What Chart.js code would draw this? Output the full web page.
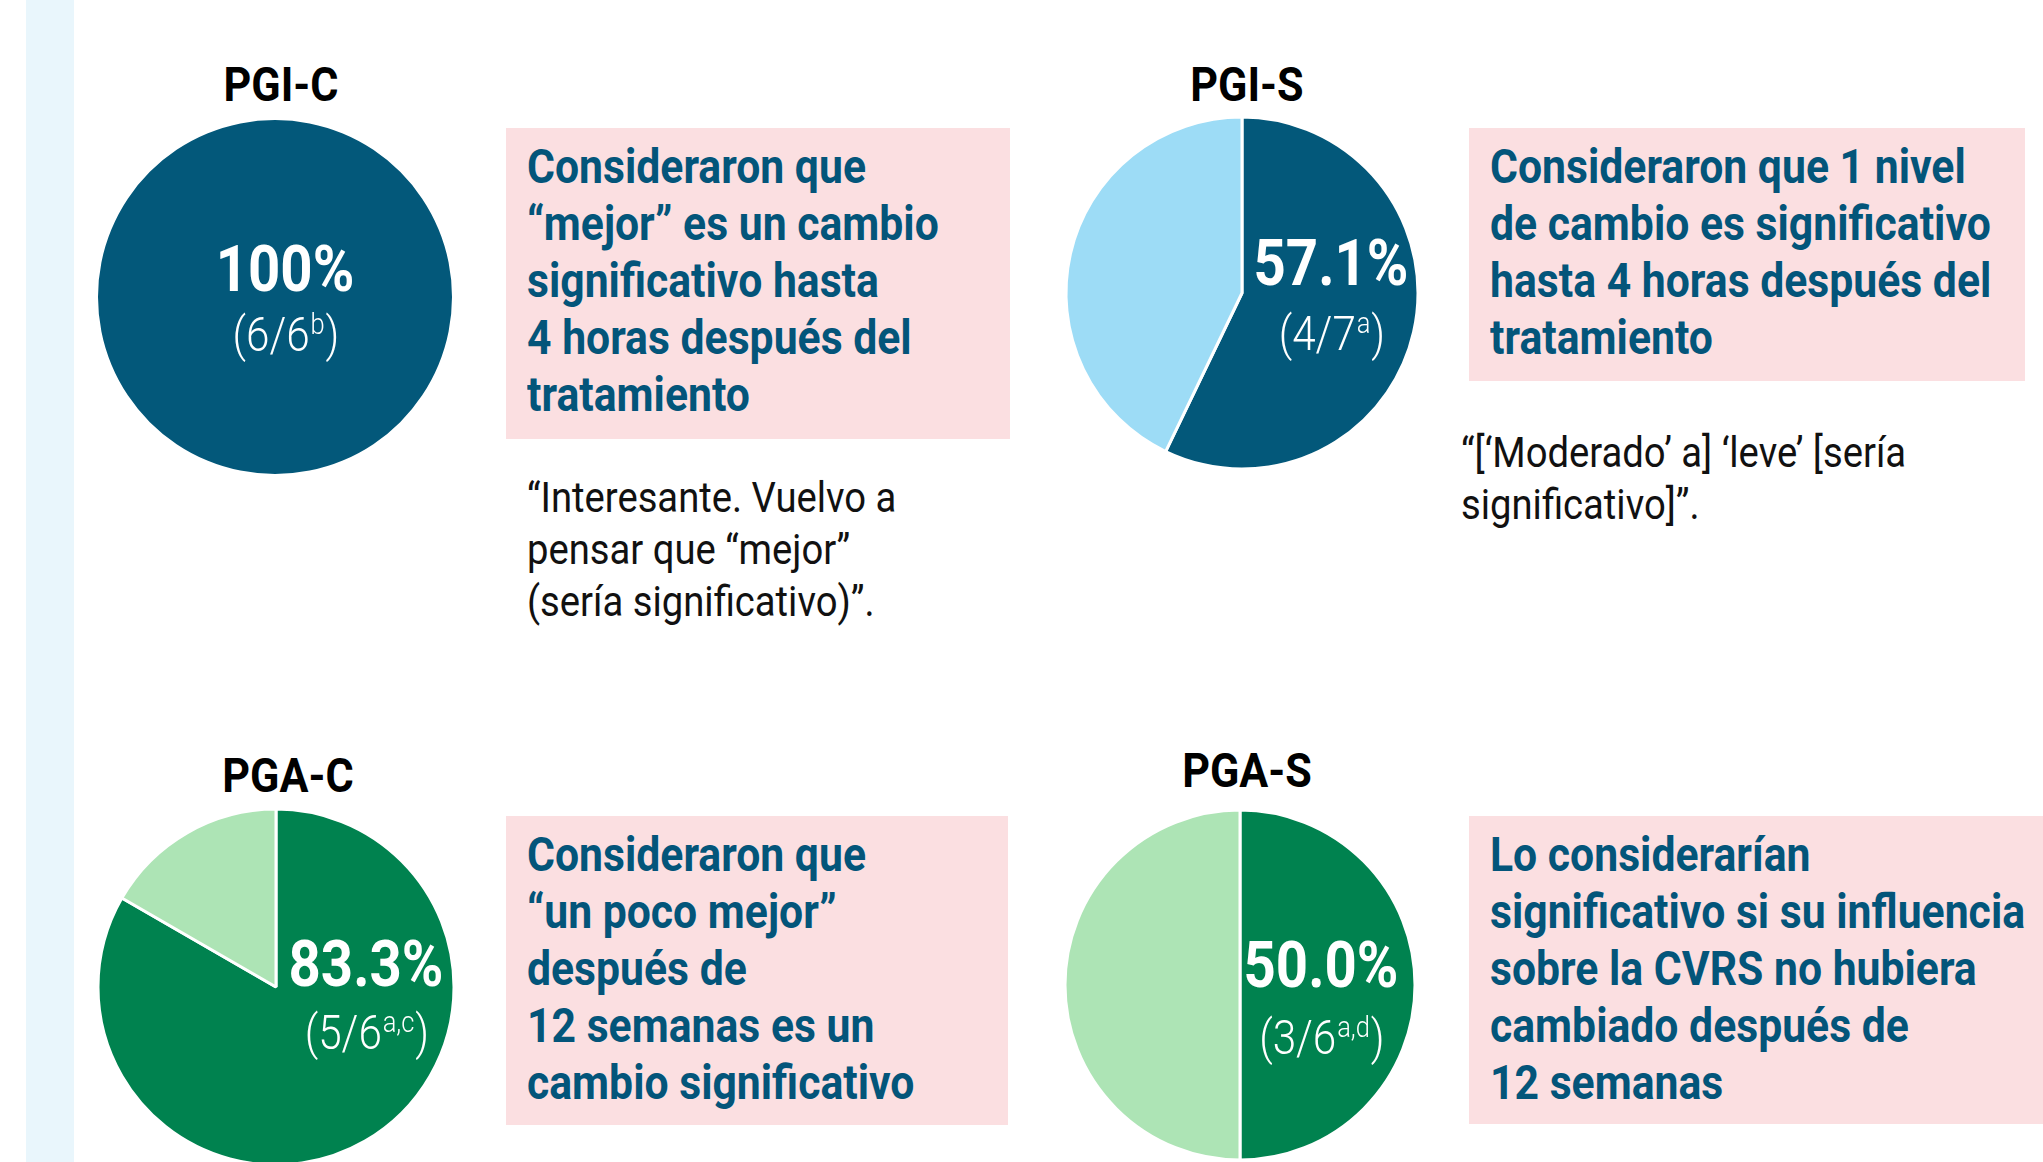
<!DOCTYPE html>
<html lang="es">
<head>
<meta charset="utf-8">
<title>PGI-C / PGI-S / PGA-C / PGA-S</title>
<script src="https://cdn.jsdelivr.net/npm/chart.js@4.4.1/dist/chart.umd.min.js"></script>
<style>
  html, body { margin: 0; padding: 0; }
  body {
    width: 2043px; height: 1162px; position: relative; overflow: hidden;
    background: #fff; font-family: Roboto, 'Liberation Sans', sans-serif;
  }
  .strip { position: absolute; left: 26px; top: 0; width: 48px; height: 1162px; background: #E9F6FC; }
  .title {
    position: absolute; width: 300px; text-align: center;
    font-weight: 700; font-size: 49px; line-height: 49px; color: #000;
    transform: scaleX(0.88); transform-origin: 50% 0; white-space: nowrap;
  }
  .box { position: absolute; background: #FBDFE1; }
  .box .txt {
    position: absolute; left: 21px; top: 10px;
    font-weight: 700; font-size: 48px; line-height: 57px; color: #03557A;
    transform: scaleX(0.89); transform-origin: 0 0; white-space: nowrap;
  }
  .quote {
    position: absolute; font-weight: 400; font-size: 42px; line-height: 52px; color: #111;
    transform: scaleX(0.91); transform-origin: 0 0; white-space: nowrap;
  }
  canvas { position: absolute; }
</style>
</head>
<body>
<div class="strip"></div>
<script>
// Data
const scaleNames = ['PGI-C', 'PGI-S', 'PGA-C', 'PGA-S'];
const considered = [6, 4, 5, 3];
const notConsidered = [0, 3, 1, 3];
const percentLabels = ['100%', '57.1%', '83.3%', '50.0%'];
const fractionLabels = ['(6/6', '(4/7', '(5/6', '(3/6'];
const footnotes = ['b', 'a', 'a,c', 'a,d'];

const boxLines = [
    ['Consideraron que', '\u201Cmejor\u201D es un cambio', 'significativo hasta', '4 horas despu\u00E9s del', 'tratamiento'],
    ['Consideraron que 1 nivel', 'de cambio es significativo', 'hasta 4 horas despu\u00E9s del', 'tratamiento'],
    ['Consideraron que', '\u201Cun poco mejor\u201D', 'despu\u00E9s de', '12 semanas es un', 'cambio significativo'],
    ['Lo considerar\u00EDan', 'significativo si su influencia', 'sobre la CVRS no hubiera', 'cambiado despu\u00E9s de', '12 semanas']
];
const quoteLines = [
    ['\u201CInteresante. Vuelvo a', 'pensar que \u201Cmejor\u201D', '(ser\u00EDa significativo)\u201D.'],
    ['\u201C[\u2018Moderado\u2019 a] \u2018leve\u2019 [ser\u00EDa', 'significativo]\u201D.'],
    null,
    null
];

// Colours
const darkBlue = '#03587A';
const lightBlue = '#9DDCF6';
const darkGreen = '#00824F';
const lightGreen = '#ADE4B5';
const pieColors = [[darkBlue, lightBlue], [darkBlue, lightBlue], [darkGreen, lightGreen], [darkGreen, lightGreen]];

// Layout (pixels)
const layout = [
    { cx: 275, cy: 297, r: 177, titleX: 281, titleY: 60, dx: 10, pctDy: -6, fracDy: 54, box: [506, 128, 504, 311], quote: [527, 472] },
    { cx: 1242, cy: 293, r: 176, titleX: 1247, titleY: 60, dx: 89, pctDy: -8, fracDy: 57, box: [1469, 128, 556, 253], quote: [1461, 427] },
    { cx: 276, cy: 987, r: 178, titleX: 288, titleY: 751, dx: 90, pctDy: -1, fracDy: 62, box: [506, 816, 502, 309] },
    { cx: 1240, cy: 985, r: 175, titleX: 1247, titleY: 746, dx: 81, pctDy: 2, fracDy: 69, box: [1469, 816, 574, 308] }
];

// Draws the percentage and fraction inside each pie
const centerLabel = {
    id: 'centerLabel',
    afterDatasetsDraw(chart, args, opts) {
        const arc = chart.getDatasetMeta(0).data[0];
        const ctx = chart.ctx;
        const x = arc.x + opts.dx;

        ctx.save();
        ctx.fillStyle = '#fff';
        ctx.translate(x, arc.y + opts.pctDy);
        ctx.scale(0.88, 1);
        ctx.font = 'bold 64px Roboto';
        ctx.textAlign = 'center';
        ctx.textBaseline = 'alphabetic';
        ctx.fillText(opts.pct, 0, 0);
        ctx.restore();

        ctx.save();
        ctx.fillStyle = '#fff';
        ctx.translate(x, arc.y + opts.fracDy);
        ctx.scale(0.88, 1);
        ctx.textAlign = 'left';
        ctx.textBaseline = 'alphabetic';
        const mainFont = '300 48px Roboto';
        const supFont = '300 29px Roboto';
        ctx.font = mainFont;
        const w1 = ctx.measureText(opts.frac).width;
        const w3 = ctx.measureText(')').width;
        ctx.font = supFont;
        const w2 = ctx.measureText(opts.note).width;
        let sx = -(w1 + w2 + w3) / 2;
        ctx.font = mainFont;
        ctx.fillText(opts.frac, sx, 0);
        sx += w1;
        ctx.font = supFont;
        ctx.fillText(opts.note, sx + 1, -17);
        sx += w2 + 2;
        ctx.font = mainFont;
        ctx.fillText(')', sx, 0);
        ctx.restore();
    }
};

scaleNames.forEach((name, i) => {
    const L = layout[i];

    const title = document.createElement('div');
    title.className = 'title';
    title.style.left = (L.titleX - 150) + 'px';
    title.style.top = L.titleY + 'px';
    title.textContent = name;
    document.body.appendChild(title);

    const size = 2 * L.r + 8;
    const canvas = document.createElement('canvas');
    canvas.width = size;
    canvas.height = size;
    canvas.style.left = (L.cx - size / 2) + 'px';
    canvas.style.top = (L.cy - size / 2) + 'px';
    canvas.style.width = size + 'px';
    canvas.style.height = size + 'px';
    document.body.appendChild(canvas);

    const values = [considered[i], notConsidered[i]];
    new Chart(canvas, {
        type: 'pie',
        data: {
            labels: ['Significativo', 'No significativo'],
            datasets: [{
                data: values,
                backgroundColor: pieColors[i],
                borderColor: '#fff',
                borderWidth: values.some(v => v === 0) ? 0 : 3,
                hoverOffset: 0
            }]
        },
        options: {
            responsive: false,
            animation: false,
            radius: L.r,
            layout: { padding: 0 },
            events: [],
            plugins: {
                legend: { display: false },
                tooltip: { enabled: false },
                centerLabel: {
                    dx: L.dx, pctDy: L.pctDy, fracDy: L.fracDy,
                    pct: percentLabels[i], frac: fractionLabels[i], note: footnotes[i]
                }
            }
        },
        plugins: [centerLabel]
    });

    const box = document.createElement('div');
    box.className = 'box';
    box.style.left = L.box[0] + 'px';
    box.style.top = L.box[1] + 'px';
    box.style.width = L.box[2] + 'px';
    box.style.height = L.box[3] + 'px';
    const txt = document.createElement('div');
    txt.className = 'txt';
    txt.innerHTML = boxLines[i].join('<br>');
    box.appendChild(txt);
    document.body.appendChild(box);

    if (quoteLines[i]) {
        const q = document.createElement('div');
        q.className = 'quote';
        q.style.left = L.quote[0] + 'px';
        q.style.top = L.quote[1] + 'px';
        q.innerHTML = quoteLines[i].join('<br>');
        document.body.appendChild(q);
    }
});
</script>
</body>
</html>
